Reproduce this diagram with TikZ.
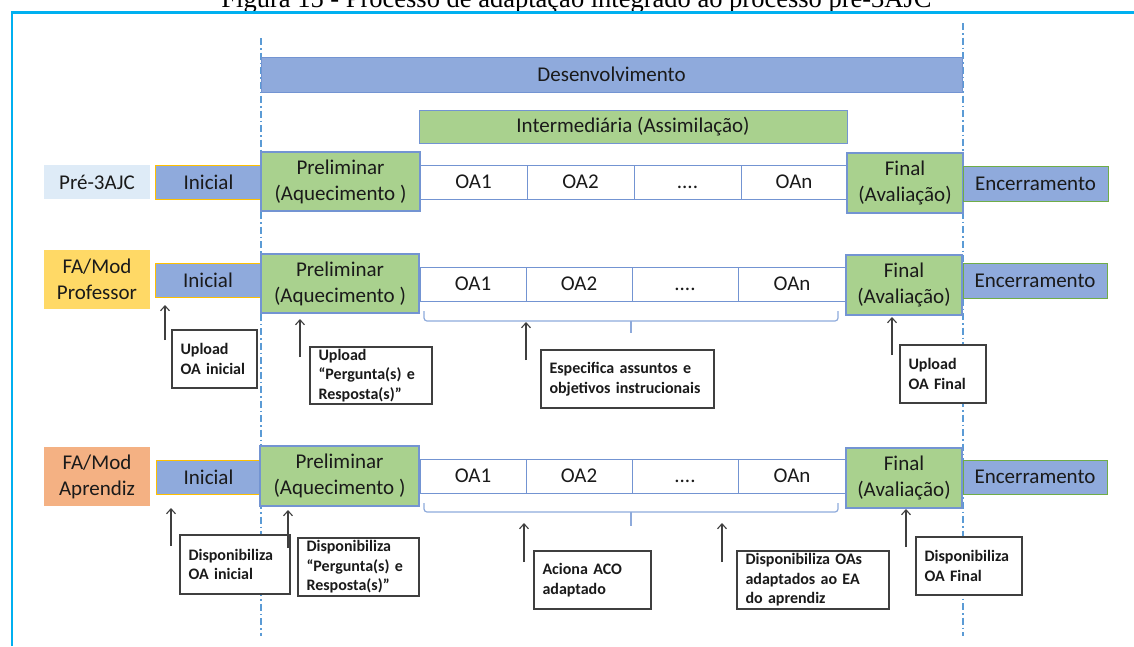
\documentclass[tikz,border=0pt]{standalone}
\usepackage{fontspec}
\setmainfont{Carlito}
\newfontfamily\capfont{Liberation Serif}
\usetikzlibrary{arrows.meta}
\definecolor{bluefill}{HTML}{8FAADC}
\definecolor{blueline}{HTML}{7394D2}
\definecolor{greenfill}{HTML}{A9D18E}
\definecolor{greenline}{HTML}{70AD47}
\definecolor{gold}{HTML}{FFC000}
\definecolor{lightblue}{HTML}{DEEBF7}
\definecolor{yellowfill}{HTML}{FFD966}
\definecolor{orangefill}{HTML}{F4B183}
\definecolor{cyanframe}{HTML}{00B0F0}
\definecolor{dashblue}{HTML}{5B9BD5}
\definecolor{bracecol}{HTML}{8EAADB}
\definecolor{notegray}{HTML}{3F3F3F}
\definecolor{txt}{HTML}{1A1A1A}
\begin{document}
\begin{tikzpicture}[x=1pt,y=-1pt,
  base/.style={inner sep=0pt, outer sep=0pt, text=txt, align=center, font=\fontsize{21}{26}\selectfont},
  label/.style={base, minimum width=106, minimum height=#1},
  inicial/.style={base, fill=bluefill, draw=gold, line width=0.8, minimum height=34},
  phase/.style={base, fill=greenfill, draw=blueline, line width=1.2, minimum height=59},
  oacell/.style={base, fill=white, draw=blueline, line width=1, minimum height=34},
  encer/.style={base, fill=bluefill, draw=greenline, line width=1, minimum width=144, minimum height=35},
  note/.style={draw=notegray, line width=1.3, fill=white, inner xsep=8.5, inner ysep=0pt, outer sep=0pt,
    text=txt, align=left, font=\bfseries\fontsize{16}{19.5}\selectfont},
  arr/.style={draw=notegray, line width=1.1, -{Straight Barb[length=5,width=9,line width=1.1]}},
  divider/.style={draw=dashblue, line width=1.4, dash pattern=on 7 off 3 on 1.5 off 3},
  bracestyle/.style={draw=bracecol, line width=1.2, rounded corners=3}
]
\useasboundingbox (0,0) rectangle (1134,646);

% caption (cut by the page top, as in the reference)
\node[anchor=base, inner sep=0pt, font=\capfont\fontsize{26.5}{30}\selectfont, text=black] (caption) at (576.5,7)
  {Figura 15 - Processo de adaptação integrado ao processo pré-3AJC};

% frame
\coordinate (frtl) at (12,12.5);
\coordinate (frtr) at (1134,12.5);
\coordinate (frbl) at (12,646);
\draw[cyanframe, line width=2.5] (frtr) -- (frtl) -- (frbl);

% dividers
\coordinate (dlt) at (261,38);
\coordinate (dlb) at (261,636);
\coordinate (drt) at (963,23);
\coordinate (drb) at (963,636);
\draw[divider] (dlt) -- (dlb);
\draw[divider] (drt) -- (drb);

% top bars
\node[base, fill=bluefill, draw=blueline, line width=1, minimum width=701, minimum height=35] (dev) at (611.5,74.5) {Desenvolvimento};
\node[base, fill=greenfill, draw=blueline, line width=0.8, minimum width=428, minimum height=33] (inter) at (633,126.5) {Intermediária (Assimilação)};

% ---------- Row 1 ----------
\node[label=34, fill=lightblue] (pre1) at (97,182) {Pré-3AJC};
\node[inicial, minimum width=107] (ini1) at (208.5,182.5) {Inicial};
\node[phase, minimum width=159] (prel1) at (340.5,181.5) {Preliminar\\(Aquecimento )};
\node[oacell, minimum width=107] (oa11) at (473.5,182) {OA1};
\node[oacell, minimum width=107] (oa12) at (580.5,182) {OA2};
\node[oacell, minimum width=107] (oa13) at (687.5,182) {\vphantom{OA}....};
\node[oacell, minimum width=106] (oa14) at (794,182) {OAn};
\node[phase, minimum width=116, minimum height=60] (fin1) at (905,183) {Final\\(Avaliação)};
\node[encer, minimum width=145] (enc1) at (1035.5,183.5) {Encerramento};

% ---------- Row 2 ----------
\node[label=59, fill=yellowfill] (fa2) at (97,279.5) {FA/Mod\\Professor};
\node[inicial, minimum width=106] (ini2) at (208,280) {Inicial};
\node[phase, minimum width=158] (prel2) at (340,283.5) {Preliminar\\(Aquecimento )};
\node[oacell, minimum width=106] (oa21) at (473,284) {OA1};
\node[oacell, minimum width=106] (oa22) at (579,284) {OA2};
\node[oacell, minimum width=106] (oa23) at (685,284) {\vphantom{OA}....};
\node[oacell, minimum width=108] (oa24) at (792,284) {OAn};
\node[phase, minimum width=116, minimum height=60] (fin2) at (904,285) {Final\\(Avaliação)};
\node[encer] (enc2) at (1035,280.5) {Encerramento};

\coordinate (b2l) at (424,311);
\coordinate (b2r) at (838,311);
\coordinate (b2m) at (631,333);
\draw[bracestyle] (b2l) -- (424,321) -- (838,321) -- (b2r);
\draw[bracecol, line width=1.2] (631,321) -- (b2m);

\node[note, text width=68, minimum height=58] (n1) at (214.5,359) {Upload\\OA~inicial};
\node[note, text width=105, minimum height=57] (n2) at (371,375.5) {Upload\\“Pergunta(s)~e\\Resposta(s)”};
\node[note, text width=156, minimum height=58] (n3) at (627.5,379) {Especifica~assuntos~e\\objetivos~instrucionais};
\node[note, text width=69, minimum height=58] (n4) at (943,374) {Upload\\OA~Final};

\coordinate (a21b) at (165,340); \coordinate (a21t) at (165,305);
\coordinate (a22b) at (300,357); \coordinate (a22t) at (300,319);
\coordinate (a23b) at (526,360); \coordinate (a23t) at (526,322);
\coordinate (a24b) at (892,355); \coordinate (a24t) at (892,317);
\draw[arr] (a21b) -- (a21t);
\draw[arr] (a22b) -- (a22t);
\draw[arr] (a23b) -- (a23t);
\draw[arr] (a24b) -- (a24t);

% ---------- Row 3 ----------
\node[label=59, fill=orangefill] (fa3) at (97,476.5) {FA/Mod\\Aprendiz};
\node[inicial, minimum width=105] (ini3) at (208.5,477) {Inicial};
\node[phase, minimum width=159, minimum height=60] (prel3) at (339.5,476) {Preliminar\\(Aquecimento )};
\node[oacell, minimum width=106] (oa31) at (473,476) {OA1};
\node[oacell, minimum width=106] (oa32) at (579,476) {OA2};
\node[oacell, minimum width=106] (oa33) at (685,476) {\vphantom{OA}....};
\node[oacell, minimum width=108] (oa34) at (792,476) {OAn};
\node[phase, minimum width=116, minimum height=60] (fin3) at (904,478) {Final\\(Avaliação)};
\node[encer, minimum height=34] (enc3) at (1035,477) {Encerramento};

\coordinate (b3l) at (424,503);
\coordinate (b3r) at (838,503);
\coordinate (b3m) at (631,526);
\draw[bracestyle] (b3l) -- (424,512) -- (838,512) -- (b3r);
\draw[bracecol, line width=1.2] (631,512) -- (b3m);

\node[note, text width=93, minimum height=59] (m1) at (235,564.5) {Disponibiliza\\OA~inicial};
\node[note, text width=104, minimum height=58] (m2) at (358.5,567) {Disponibiliza\\“Pergunta(s)~e\\Resposta(s)”};
\node[note, text width=100, minimum height=58] (m3) at (592.5,580) {Aciona~ACO\\adaptado};
\node[note, text width=135, minimum height=58] (m4) at (813,580) {Disponibiliza~OAs\\adaptados~ao~EA\\do~aprendiz};
\node[note, text width=89, minimum height=58] (m5) at (969,566) {Disponibiliza\\OA~Final};

\coordinate (a31b) at (171,546); \coordinate (a31t) at (171,508);
\coordinate (a32b) at (288,548); \coordinate (a32t) at (288,510);
\coordinate (a33b) at (524,562); \coordinate (a33t) at (524,523);
\coordinate (a34b) at (722,562); \coordinate (a34t) at (722,523);
\coordinate (a35b) at (906,547); \coordinate (a35t) at (906,509);
\draw[arr] (a31b) -- (a31t);
\draw[arr] (a32b) -- (a32t);
\draw[arr] (a33b) -- (a33t);
\draw[arr] (a34b) -- (a34t);
\draw[arr] (a35b) -- (a35t);
\end{tikzpicture}
\end{document}
